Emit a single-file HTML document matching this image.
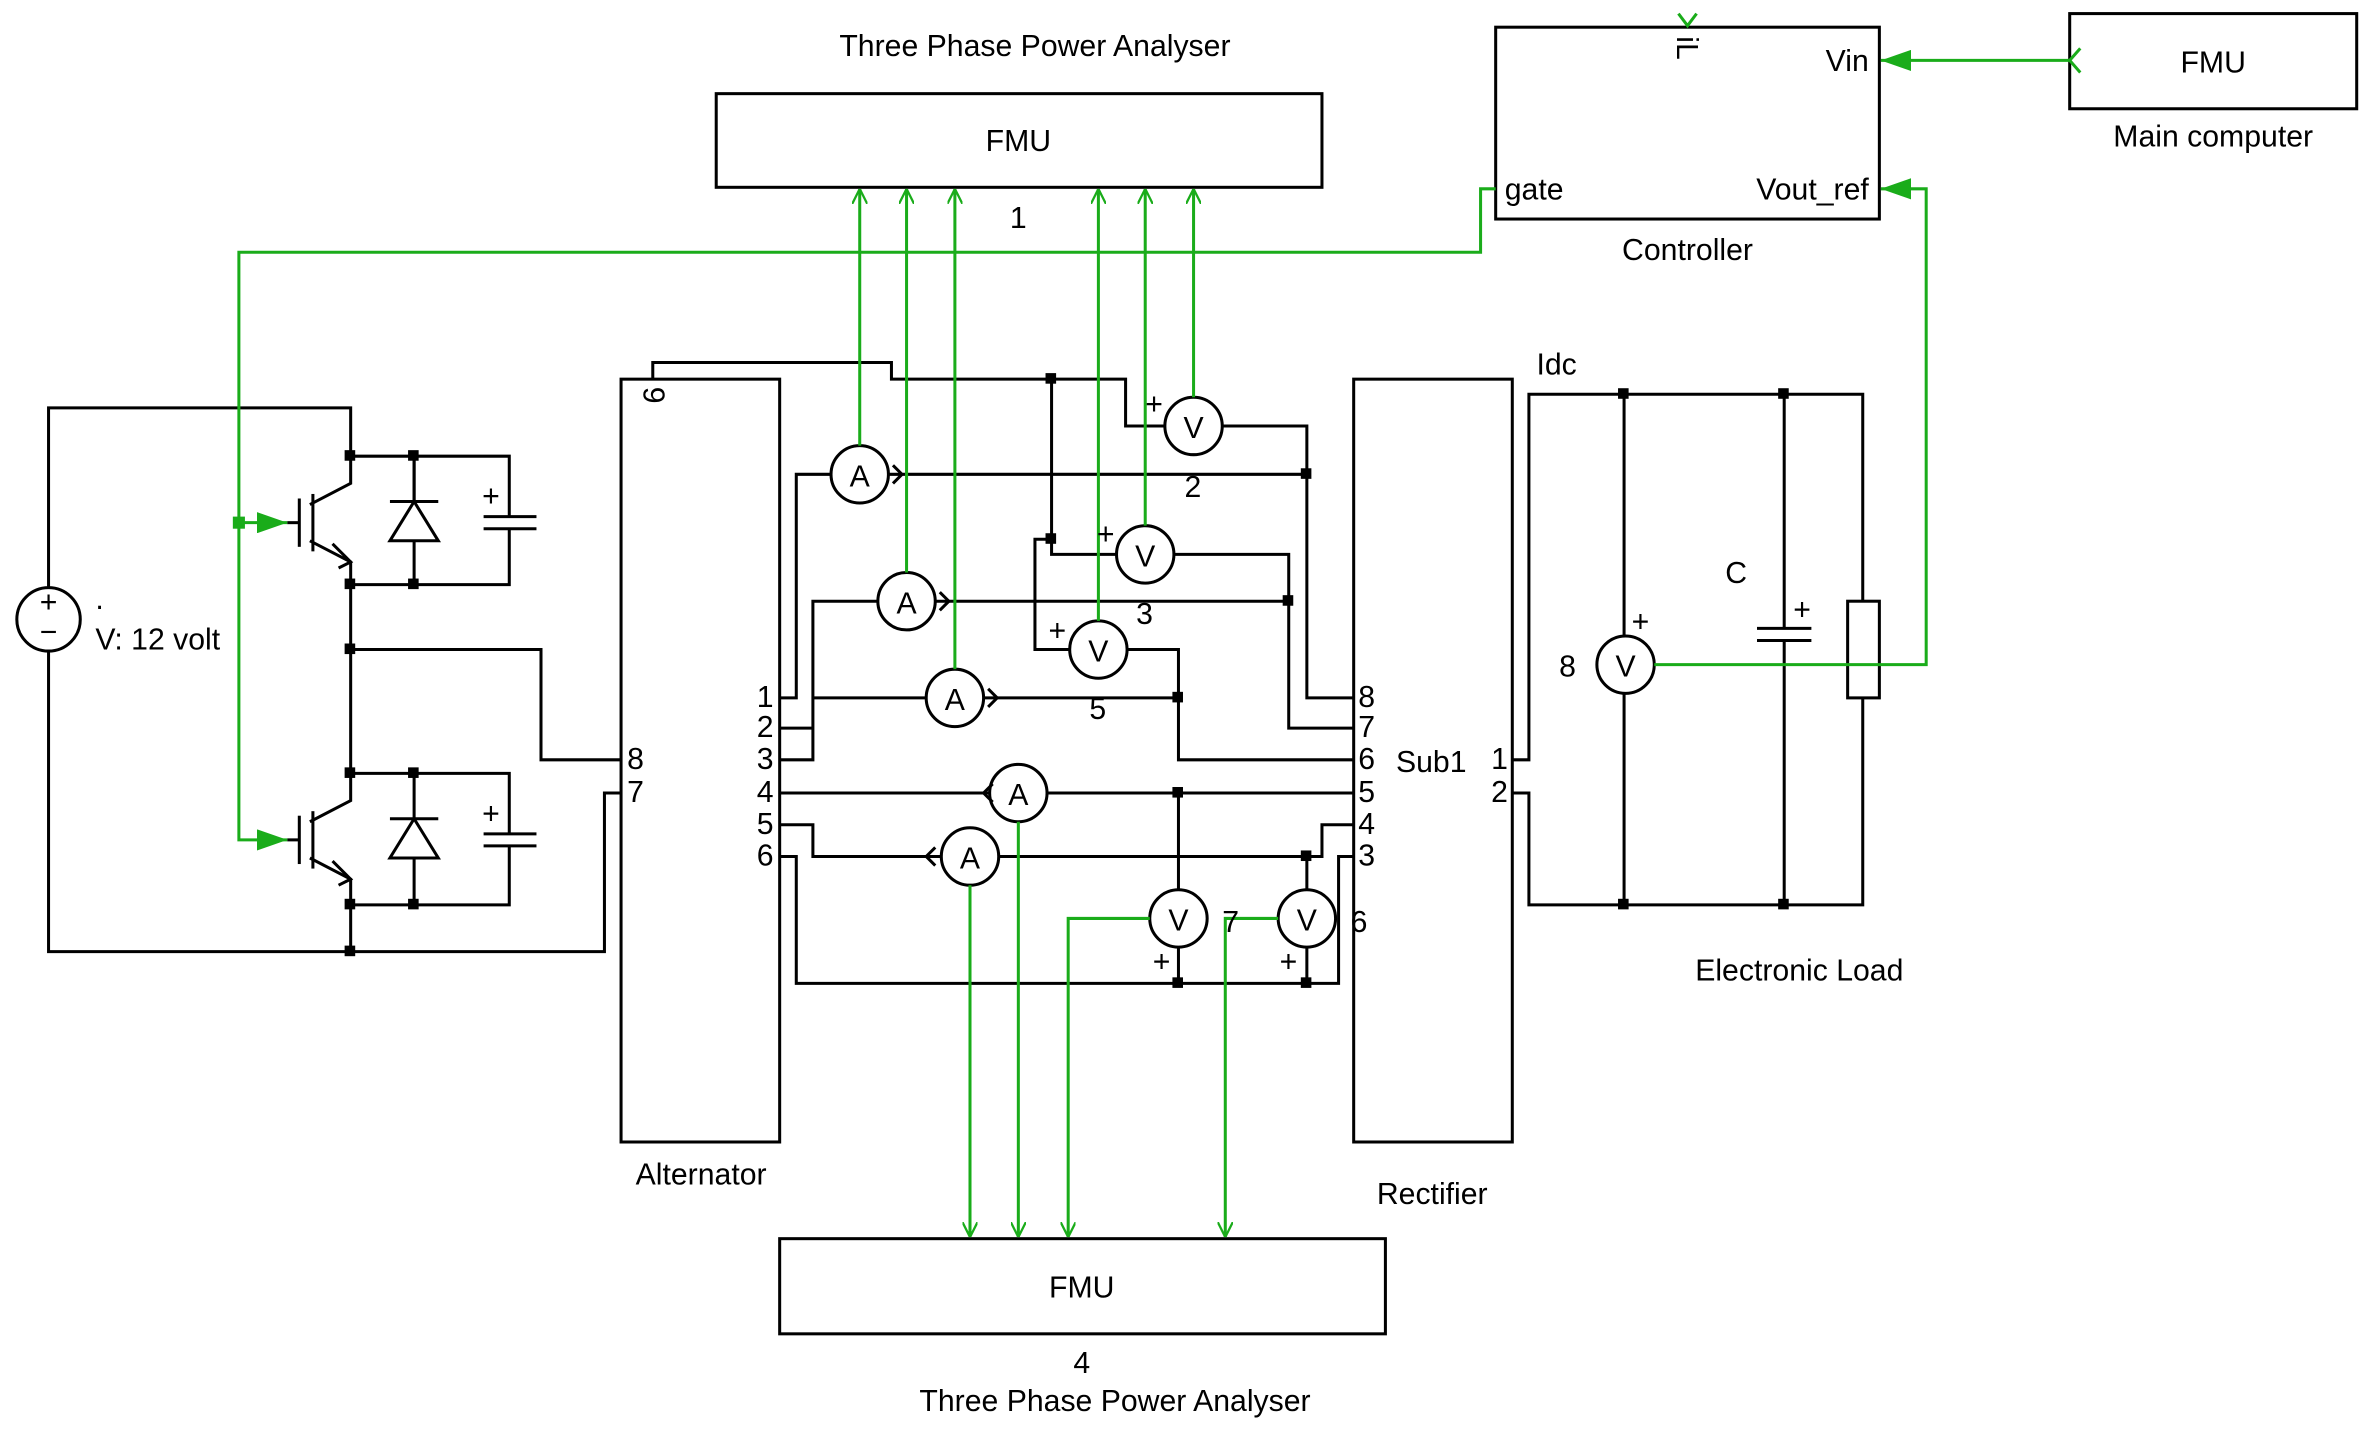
<!DOCTYPE html>
<html><head><meta charset="utf-8"><style>
html,body{margin:0;padding:0;background:#fff}
svg{display:block}
text{font-family:"Liberation Sans","DejaVu Sans",sans-serif;font-size:20px;fill:#000}
</style></head><body>
<svg width="2369" height="1429" viewBox="0 0 1568 946" xmlns="http://www.w3.org/2000/svg">
<defs>
<marker id="ao" viewBox="0 0 10 10" refX="10" refY="5" markerWidth="10" markerHeight="10" markerUnits="userSpaceOnUse" orient="auto"><path d="M0,0 L10,5 L0,10" fill="none" stroke="#1aac1a" stroke-width="1.5"/></marker>
<marker id="af" viewBox="0 0 20 14" refX="20" refY="7" markerWidth="20" markerHeight="14" markerUnits="userSpaceOnUse" orient="auto"><path d="M0,0 L20,7 L0,14 Z" fill="#1aac1a"/></marker>
</defs>
<g fill="none" stroke="#000" stroke-width="2">
<rect x="474" y="62" width="401" height="62"/>
<rect x="516" y="820" width="401" height="63"/>
<rect x="990" y="18" width="254" height="127"/>
<rect x="1370" y="9" width="190" height="63"/>
<rect x="411" y="251" width="105" height="505"/>
<rect x="896" y="251" width="105" height="505"/>
<polyline points="432,251 432,240 590,240 590,251 745,251 745,282 771,282"/>
<polyline points="809,282 865,282 865,462 896,462"/>
<polyline points="696,251 696,367 739,367"/>
<polyline points="777,367 853,367 853,482 896,482"/>
<polyline points="696,357 685,357 685,430 708,430"/>
<polyline points="746,430 780,430 780,503 896,503"/>
<polyline points="516,462 527,462 527,314 550,314"/>
<line x1="588" y1="314" x2="865" y2="314"/>
<polyline points="516,482 538,482"/>
<polyline points="516,503 538,503 538,398 581,398"/>
<line x1="619" y1="398" x2="853" y2="398"/>
<line x1="538" y1="462" x2="613" y2="462"/>
<line x1="651" y1="462" x2="780" y2="462"/>
<polyline points="591,308 597,314 591,320"/>
<polyline points="622,392 628,398 622,404"/>
<polyline points="654,456 660,462 654,468"/>
<line x1="516" y1="525" x2="655" y2="525"/>
<line x1="693" y1="525" x2="896" y2="525"/>
<polyline points="657,519 651,525 657,531"/>
<polyline points="516,546 538,546 538,567 623,567"/>
<polyline points="661,567 875,567 875,546 896,546"/>
<polyline points="619,561 613,567 619,573"/>
<polyline points="516,567 527,567 527,651 886,651 886,567 896,567"/>
<line x1="780" y1="525" x2="780" y2="589"/><line x1="780" y1="627" x2="780" y2="651"/>
<line x1="865" y1="567" x2="865" y2="589"/><line x1="865" y1="627" x2="865" y2="651"/>
<circle cx="790" cy="282" r="19"/><circle cx="758" cy="367" r="19"/><circle cx="727" cy="430" r="19"/>
<circle cx="569" cy="314" r="19"/><circle cx="600" cy="398" r="19"/><circle cx="632" cy="462" r="19"/>
<circle cx="674" cy="525" r="19"/><circle cx="642" cy="567" r="19"/>
<circle cx="780" cy="608" r="19"/><circle cx="865" cy="608" r="19"/>
<circle cx="1076" cy="440" r="19"/>
<circle cx="32" cy="410" r="21"/>
<polyline points="32,389 32,270 232,270 232,320 205,334"/>
<polyline points="32,431 32,630 400,630 400,525 411,525"/>
<polyline points="205,358 232,372 232,530 205,544"/>
<polyline points="205,568 232,582 232,630"/>
<polyline points="232,430 358,430 358,503 411,503"/>
<line x1="198" y1="330" x2="198" y2="362"/><line x1="207" y1="327" x2="207" y2="365"/>
<line x1="198" y1="540" x2="198" y2="572"/><line x1="207" y1="537" x2="207" y2="575"/>
<line x1="190" y1="346" x2="198" y2="346"/><line x1="190" y1="556" x2="198" y2="556"/>
<polyline points="220,360 232,372 224,376"/><polyline points="220,570 232,582 224,586"/>
<polyline points="232,302 337,302 337,342"/><polyline points="232,387 337,387 337,350"/>
<polyline points="232,512 337,512 337,552"/><polyline points="232,599 337,599 337,560"/>
<line x1="320" y1="342" x2="355" y2="342"/><line x1="320" y1="350" x2="355" y2="350"/>
<line x1="320" y1="552" x2="355" y2="552"/><line x1="320" y1="560" x2="355" y2="560"/>
<line x1="274" y1="302" x2="274" y2="387"/><line x1="274" y1="512" x2="274" y2="599"/>
<line x1="258" y1="332" x2="290" y2="332"/><path d="M274,332 L290,358 L258,358 Z" fill="#fff"/>
<line x1="258" y1="542" x2="290" y2="542"/><path d="M274,542 L290,568 L258,568 Z" fill="#fff"/>
<line x1="274" y1="302" x2="274" y2="332"/>
<polyline points="1001,503 1012,503 1012,261 1233,261 1233,398"/>
<polyline points="1001,525 1012,525 1012,599 1233,599 1233,462"/>
<rect x="1223" y="398" width="21" height="64"/>
<line x1="1075" y1="261" x2="1075" y2="421"/><line x1="1075" y1="459" x2="1075" y2="599"/>
<polyline points="1181,261 1181,416"/><polyline points="1181,424 1181,599"/>
<line x1="1163" y1="416" x2="1199" y2="416"/><line x1="1163" y1="424" x2="1199" y2="424"/>
</g>
<g fill="#000">
<rect x="692" y="247" width="7" height="7"/><rect x="692" y="353" width="7" height="7"/>
<rect x="861" y="310" width="7" height="7"/><rect x="849" y="394" width="7" height="7"/>
<rect x="776" y="458" width="7" height="7"/><rect x="776" y="521" width="7" height="7"/>
<rect x="861" y="563" width="7" height="7"/><rect x="776" y="647" width="7" height="7"/>
<rect x="861" y="647" width="7" height="7"/>
<rect x="228" y="298" width="7" height="7"/><rect x="228" y="383" width="7" height="7"/>
<rect x="270" y="298" width="7" height="7"/><rect x="270" y="383" width="7" height="7"/>
<rect x="228" y="426" width="7" height="7"/>
<rect x="228" y="508" width="7" height="7"/><rect x="228" y="595" width="7" height="7"/>
<rect x="270" y="508" width="7" height="7"/><rect x="270" y="595" width="7" height="7"/>
<rect x="228" y="626" width="7" height="7"/>
<rect x="1071" y="257" width="7" height="7"/><rect x="1177" y="257" width="7" height="7"/>
<rect x="1071" y="595" width="7" height="7"/><rect x="1177" y="595" width="7" height="7"/>
</g>
<g fill="none" stroke="#1aac1a" stroke-width="2">
<line x1="569" y1="295" x2="569" y2="125" marker-end="url(#ao)"/>
<line x1="600" y1="379" x2="600" y2="125" marker-end="url(#ao)"/>
<line x1="632" y1="443" x2="632" y2="125" marker-end="url(#ao)"/>
<line x1="727" y1="411" x2="727" y2="125" marker-end="url(#ao)"/>
<line x1="758" y1="348" x2="758" y2="125" marker-end="url(#ao)"/>
<line x1="790" y1="263" x2="790" y2="125" marker-end="url(#ao)"/>
<line x1="642" y1="586" x2="642" y2="819" marker-end="url(#ao)"/>
<line x1="674" y1="544" x2="674" y2="819" marker-end="url(#ao)"/>
<polyline points="761,608 707,608 707,819" marker-end="url(#ao)"/>
<polyline points="846,608 811,608 811,819" marker-end="url(#ao)"/>
<polyline points="990,125 980,125 980,167 158,167 158,556 190,556" marker-end="url(#af)"/>
<line x1="158" y1="346" x2="190" y2="346" marker-end="url(#af)"/>
<line x1="1370" y1="40" x2="1245" y2="40" marker-end="url(#af)"/>
<polyline points="1095,440 1275,440 1275,125 1245,125" marker-end="url(#af)"/>
<polyline points="1377,32 1370,40 1377,48"/>
<polyline points="1111,9 1117,17 1123,9"/>
</g>
<rect x="154" y="342" width="8" height="8" fill="#1aac1a"/>
<g text-anchor="middle">
<text x="685" y="37">Three Phase Power Analyser</text>
<text x="674" y="100">FMU</text>
<text x="674" y="151">1</text>
<text x="716" y="859">FMU</text>
<text x="716" y="909">4</text>
<text x="738" y="934">Three Phase Power Analyser</text>
<text x="1465" y="48">FMU</text>
<text x="1465" y="97">Main computer</text>
<text x="1117" y="172">Controller</text>
<text x="464" y="784">Alternator</text>
<text x="948" y="797">Rectifier</text>
<text x="1191" y="649">Electronic Load</text>
<text x="569" y="322">A</text><text x="600" y="406">A</text><text x="632" y="470">A</text>
<text x="674" y="533">A</text><text x="642" y="575">A</text>
<text x="790" y="290">V</text><text x="758" y="375">V</text><text x="727" y="438">V</text>
<text x="780" y="616">V</text><text x="865" y="616">V</text><text x="1076" y="448">V</text>
<text x="32" y="405" font-size="18">+</text><text x="32" y="425" font-size="18">−</text>
</g>
<text x="1237" y="47" text-anchor="end" font-size="17">Vin</text>
<text x="996" y="132" font-size="17">gate</text>
<text x="1237" y="132" text-anchor="end" font-size="17">Vout_ref</text>
<text x="0" y="0" font-size="14" transform="translate(1110,24) rotate(90)">iL</text>
<text x="0" y="0" font-size="17" transform="translate(426,256) rotate(90)">9</text>
<g font-size="17" text-anchor="end">
<text x="512" y="468">1</text><text x="512" y="488">2</text><text x="512" y="509">3</text>
<text x="512" y="531">4</text><text x="512" y="552">5</text><text x="512" y="573">6</text>
</g>
<g font-size="17">
<text x="415" y="509">8</text><text x="415" y="531">7</text>
<text x="899" y="468">8</text><text x="899" y="488">7</text><text x="899" y="509">6</text>
<text x="899" y="531">5</text><text x="899" y="552">4</text><text x="899" y="573">3</text>
<text x="987" y="509">1</text><text x="987" y="531">2</text>
<text x="758" y="274">+</text><text x="726" y="360">+</text><text x="694" y="424">+</text>
<text x="763" y="643">+</text><text x="847" y="643">+</text>
<text x="1080" y="418">+</text><text x="1187" y="410">+</text>
<text x="319" y="335">+</text><text x="319" y="545">+</text>
</g>
<text x="924" y="511">Sub1</text>
<text x="784" y="329">2</text><text x="752" y="413">3</text><text x="721" y="476">5</text>
<text x="809" y="617">7</text><text x="894" y="617">6</text>
<text x="1032" y="448">8</text>
<text x="1142" y="386">C</text>
<text x="1017" y="248">Idc</text>
<text x="63" y="403">.</text>
<text x="63" y="430">V: 12 volt</text>
</svg>
</body></html>
